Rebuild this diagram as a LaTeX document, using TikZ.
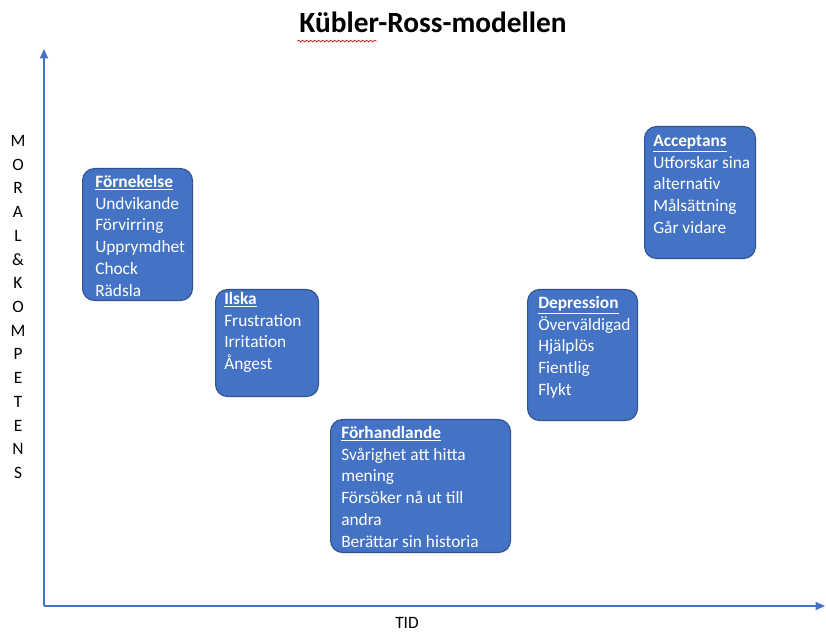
\documentclass[tikz,border=0pt]{standalone}
\usepackage{fontspec}
\setmainfont{Carlito}
\usetikzlibrary{arrows.meta,decorations.pathmorphing}
\definecolor{boxblue}{HTML}{4472C4}
\definecolor{boxedge}{HTML}{2F528F}
\definecolor{axisblue}{HTML}{4472C4}
\tikzset{
  stagebox/.style={draw=boxedge, line width=0.8pt, fill=boxblue, rounded corners=9pt, anchor=north west, inner sep=0pt},
  stagetext/.style={anchor=north west, inner sep=0pt, text=white, align=left, font=\fontsize{13}{16.3}\selectfont},
  axisline/.style={draw=axisblue, line width=1.1pt, -{Triangle[length=7pt,width=6pt]}},
}
\newcommand{\hd}[1]{\underline{\textbf{#1}}}
\begin{document}
\begin{tikzpicture}[x=0.75pt,y=-0.75pt]
\useasboundingbox (0,0) rectangle (826,634);
% title
\node[font=\fontsize{22}{26}\selectfont\bfseries] (title) at (433,22) {Kübler-Ross-modellen};
\draw[red!80!black, line width=0.5pt, decorate, decoration={snake, amplitude=0.7pt, segment length=3pt}] ([xshift=2pt,yshift=-3pt]title.south west) -- ++(80,0);
% axes
\coordinate (origin) at (44,606);
\coordinate (ytop) at (44,49);
\coordinate (xend) at (825,606);
\draw[axisline] (origin) -- (ytop);
\draw[axisline] (origin) -- (xend);
\node[font=\fontsize{13}{16}\selectfont, inner sep=0pt, anchor=base] (tid) at (407,629) {TID};
\node[font=\fontsize{13}{17.8}\selectfont, align=center, anchor=north, inner sep=0pt] (ylab) at (18,135) {M\\O\\R\\A\\L\\\&\\K\\O\\M\\P\\E\\T\\E\\N\\S};
% boxes
\node[stagebox, minimum width=110*0.75pt, minimum height=132*0.75pt] (b1) at (82,168) {};
\node[stagetext] (t1) at (95,175) {\hd{Förnekelse}\\Undvikande\\Förvirring\\Upprymdhet\\Chock\\Rädsla};
\node[stagebox, minimum width=103*0.75pt, minimum height=107*0.75pt] (b2) at (215,289) {};
\node[stagetext] (t2) at (224,292) {\hd{Ilska}\\Frustration\\Irritation\\Ångest};
\node[stagebox, minimum width=180*0.75pt, minimum height=133*0.75pt] (b3) at (330,419) {};
\node[stagetext] (t3) at (341,426) {\hd{Förhandlande}\\Svårighet att hitta\\mening\\Försöker nå ut till\\andra\\Berättar sin historia};
\node[stagebox, minimum width=110*0.75pt, minimum height=131*0.75pt] (b4) at (527,289) {};
\node[stagetext] (t4) at (538,296) {\hd{Depression}\\Överväldigad\\Hjälplös\\Fientlig\\Flykt};
\node[stagebox, minimum width=111*0.75pt, minimum height=132*0.75pt] (b5) at (644,126) {};
\node[stagetext] (t5) at (653,135) {\hd{Acceptans}\\Utforskar sina\\alternativ\\Målsättning\\Går vidare};
\end{tikzpicture}
\end{document}
